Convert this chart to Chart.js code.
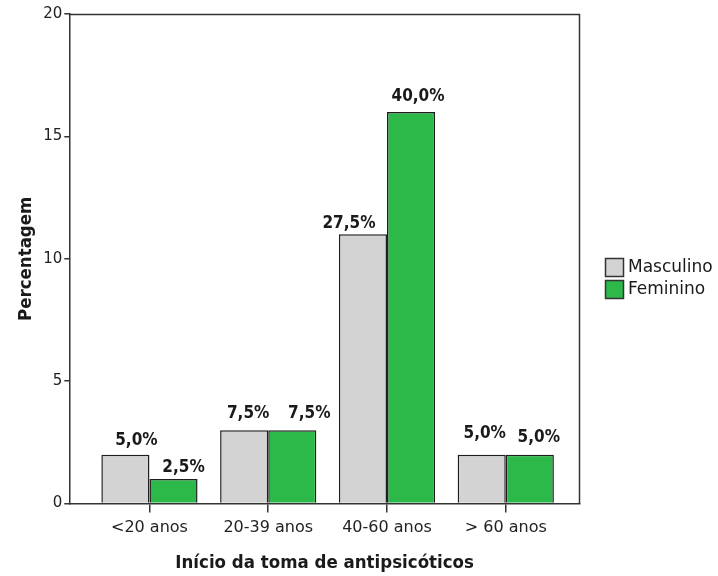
<!DOCTYPE html>
<html>
<head>
<meta charset="utf-8">
<script src="https://cdn.jsdelivr.net/npm/chart.js@4/dist/chart.umd.min.js"></script>
<style>
  body { margin: 0; background: #fff; }
  #wrap { width: 718px; height: 576px; }
</style>
</head>
<body>
<div id="wrap"><canvas id="chart-area" width="718" height="576"></canvas></div>
<script>
var categories = ["<20 anos", "20-39 anos", "40-60 anos", "> 60 anos"];
var masculino = [2, 3, 11, 2];
var feminino = [1, 3, 16, 2];
var masculinoLabels = ["5,0%", "7,5%", "27,5%", "5,0%"];
var femininoLabels = ["2,5%", "7,5%", "40,0%", "5,0%"];
var yTicks = [0, 5, 10, 15, 20];

var axisColor = '#333333';

// label placement tweaks (dx from bar centre, gap above bar), like the original
var labelNudge = [
    [[11, 10], [4, 12], [-14, 6], [3, 17]],
    [[10, 7], [17, 12], [7, 11], [9, 13]]
];

var toPoints = function(values) {
    return values.map(function(v, i) { return { x: i, y: v }; });
};

// labels above the bars, frame round the plot area, legend on the right
var extras = {
    id: 'extras',
    afterDatasetsDraw: function(chart) {
        var ctx = chart.ctx;
        ctx.save();
        ctx.font = 'bold 17px "DejaVu Sans Condensed"';
        ctx.fillStyle = '#1a1a1a';
        ctx.textAlign = 'center';
        ctx.textBaseline = 'alphabetic';
        chart.data.datasets.forEach(function(ds, i) {
            var meta = chart.getDatasetMeta(i);
            meta.data.forEach(function(bar, j) {
                var n = labelNudge[i][j];
                ctx.fillText(ds.valueLabels[j], bar.x + n[0], bar.y - n[1]);
            });
        });

        var a = chart.chartArea;
        ctx.strokeStyle = axisColor;
        ctx.lineWidth = 1.5;
        ctx.beginPath();
        ctx.moveTo(a.left, a.top + 0.5);
        ctx.lineTo(a.right - 0.5, a.top + 0.5);
        ctx.lineTo(a.right - 0.5, a.bottom);
        ctx.stroke();

        // legend
        var lx = a.right + 25, ly = 258;
        ctx.font = '17px "DejaVu Sans"';
        ctx.textAlign = 'left';
        ctx.textBaseline = 'middle';
        chart.data.datasets.forEach(function(ds, i) {
            var y = ly + i * 22;
            ctx.fillStyle = ds.backgroundColor;
            ctx.fillRect(lx, y, 19, 19);
            ctx.strokeStyle = '#333';
            ctx.lineWidth = 1.5;
            ctx.strokeRect(lx + 0.5, y + 0.5, 18, 18);
            ctx.fillStyle = '#1a1a1a';
            ctx.fillText(ds.label, lx + 23, y + 10);
        });
        ctx.restore();
    }
};

var config = {
    type: 'bar',
    data: {
        datasets: [{
            label: 'Masculino',
            data: toPoints(masculino),
            valueLabels: masculinoLabels,
            backgroundColor: '#d3d3d3',
            borderColor: '#1e1e1e',
            borderWidth: 1.5
        }, {
            label: 'Feminino',
            data: toPoints(feminino),
            valueLabels: femininoLabels,
            backgroundColor: '#2db84a',
            borderColor: '#1e1e1e',
            borderWidth: 1.5
        }]
    },
    options: {
        responsive: false,
        animation: false,
        layout: { padding: { top: 14, left: 15, right: 138, bottom: 2 } },
        datasets: {
            bar: { categoryPercentage: 0.81, barPercentage: 1.0 }
        },
        plugins: {
            legend: { display: false },
            tooltip: { enabled: false }
        },
        scales: {
            x: {
                type: 'linear',
                offset: false,
                min: -0.675,
                max: 3.625,
                afterBuildTicks: function(axis) {
                    axis.ticks = categories.map(function(c, i) { return { value: i }; });
                },
                grid: { display: true, drawOnChartArea: false, drawTicks: true, tickLength: 9, color: axisColor, lineWidth: 1.5, offset: false },
                border: { display: true, color: axisColor, width: 1.5 },
                ticks: {
                    font: { family: '"DejaVu Sans"', size: 16 },
                    color: '#222',
                    padding: 6,
                    callback: function(value) { return categories[value]; }
                },
                title: {
                    display: true,
                    text: 'Início da toma de antipsicóticos',
                    font: { family: '"DejaVu Sans Condensed"', size: 18.5, weight: 'bold' },
                    color: '#1a1a1a',
                    padding: { top: 8, bottom: 0 }
                }
            },
            y: {
                min: 0,
                max: 20,
                afterBuildTicks: function(axis) {
                    axis.ticks = yTicks.map(function(v) { return { value: v }; });
                },
                grid: { display: true, drawOnChartArea: false, drawTicks: true, tickLength: 5, color: axisColor, lineWidth: 1.5 },
                border: { display: true, color: axisColor, width: 1.5 },
                ticks: { font: { family: '"DejaVu Sans"', size: 15 }, color: '#222', padding: 2 },
                title: {
                    display: true,
                    text: 'Percentagem',
                    font: { family: '"DejaVu Sans Condensed"', size: 18.5, weight: 'bold' },
                    color: '#1a1a1a',
                    padding: { top: 0, bottom: 4 }
                }
            }
        }
    },
    plugins: [extras]
};

window.onload = function() {
    var ctx = document.getElementById("chart-area").getContext("2d");
    window.myBar = new Chart(ctx, config);
};
</script>
</body>
</html>
